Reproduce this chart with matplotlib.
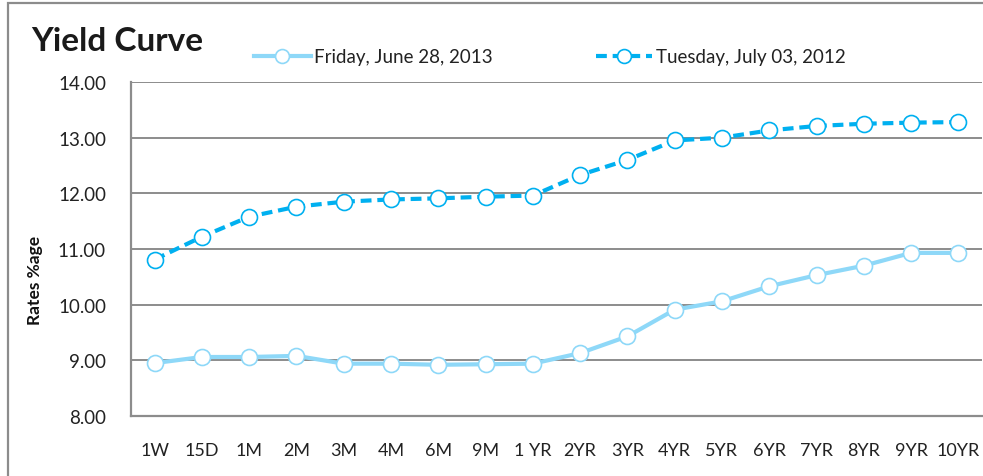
import matplotlib
matplotlib.use("Agg")
import matplotlib.pyplot as plt
from matplotlib.lines import Line2D
from matplotlib.patches import Rectangle

plt.rcParams['font.family'] = ['Lato', 'DejaVu Sans']

tenors = ["1W", "15D", "1M", "2M", "3M", "4M", "6M", "9M", "1 YR", "2YR",
          "3YR", "4YR", "5YR", "6YR", "7YR", "8YR", "9YR", "10YR"]
rates_2013 = [8.95, 9.06, 9.06, 9.08, 8.94, 8.94, 8.92, 8.93, 8.94, 9.13,
              9.43, 9.91, 10.06, 10.33, 10.53, 10.70, 10.93, 10.93]
rates_2012 = [10.81, 11.22, 11.58, 11.76, 11.85, 11.89, 11.91, 11.94, 11.96, 12.33,
              12.60, 12.95, 13.00, 13.13, 13.21, 13.25, 13.27, 13.28]
label_2013 = "Friday, June 28, 2013"
label_2012 = "Tuesday, July 03, 2012"
y_ticks = [8, 9, 10, 11, 12, 13, 14]

c_light = "#8ED8F8"
c_dark = "#00B0F0"
grid_c = "#8C8C8C"

W, H = 983, 477
fig = plt.figure(figsize=(W / 100, H / 100), dpi=100)

# outer chart frame
fig.patches.append(Rectangle((8 / W, -0.1), 1.2, (H - 4) / H + 0.1,
                             transform=fig.transFigure, fill=False,
                             edgecolor="#8C8C8C", linewidth=1.6))

ax = fig.add_axes([131 / W, (H - 417) / H, 851 / W, 334 / H])
x = list(range(len(tenors)))

ax.plot(x, rates_2013, color=c_light, lw=3.0, marker="o", ms=11.5,
        mfc="white", mec=c_light, mew=1.2, zorder=3)
ax.plot(x, rates_2012, color=c_dark, lw=3.0, ls=(0, (2.6, 1.4)), marker="o", ms=11.5,
        mfc="white", mec=c_dark, mew=1.2, zorder=3)

ax.set_xlim(-0.5, len(tenors) - 0.5)
ax.set_ylim(8, 14)
ax.set_yticks(y_ticks)
ax.set_yticklabels([f"{v:.2f}" for v in y_ticks], fontsize=13.5, color="#222222")
ax.set_xticks(x)
ax.set_xticklabels(tenors, fontsize=13, color="#222222")
ax.tick_params(axis="both", length=0)
ax.tick_params(axis="y", pad=18)
ax.tick_params(axis="x", pad=19)
ax.grid(axis="y", color=grid_c, lw=1.4, zorder=0)
ax.set_axisbelow(True)
for s in ["top", "right"]:
    ax.spines[s].set_visible(False)
for s in ["left", "bottom"]:
    ax.spines[s].set_color(grid_c)
    ax.spines[s].set_linewidth(1.6)

fig.text(35 / W, (H - 280) / H, "Rates %age", rotation=90, fontsize=12.5,
         fontweight="bold", ha="center", va="center", color="#111111")
fig.text(31 / W, (H - 51) / H, "Yield Curve", fontsize=24, fontweight="bold",
         ha="left", va="baseline", color="#1a1a1a")

handles = [
    Line2D([], [], color=c_light, lw=3.0, marker="o", ms=10, mfc="white",
           mec=c_light, mew=1.2),
    Line2D([], [], color=c_dark, lw=3.0, ls=(0, (2.6, 1.4)), marker="o", ms=10,
           mfc="white", mec=c_dark, mew=1.2),
]
fig.legend(handles, [label_2013, label_2012], loc="center",
           bbox_to_anchor=(550 / W, (H - 58) / H), ncol=2, frameon=False,
           fontsize=13.5, handlelength=3.0, handletextpad=0.2, columnspacing=5.5,
           labelcolor="#222222")

fig.savefig("out.png", dpi=100)
